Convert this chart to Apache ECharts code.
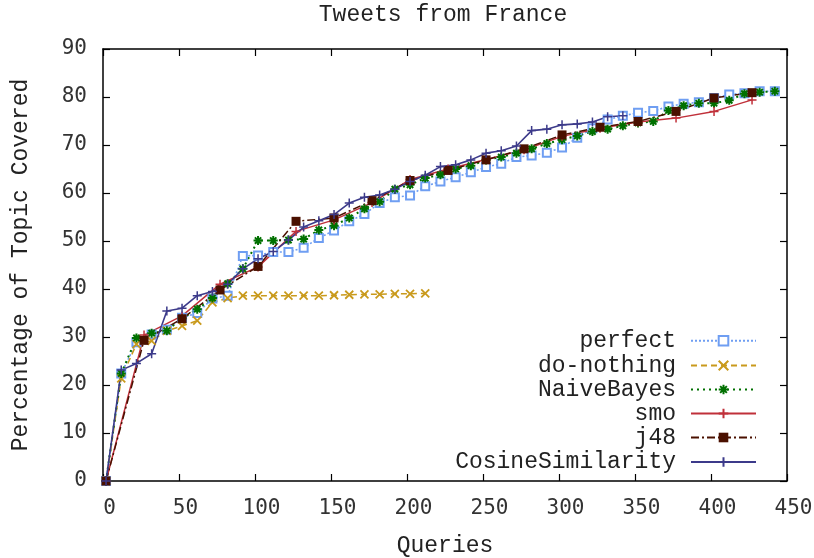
<!DOCTYPE html>
<html>
<head>
<meta charset="utf-8">
<script src="https://cdn.jsdelivr.net/npm/echarts@6/dist/echarts.min.js"></script>
<style>html,body{margin:0;padding:0;background:#fff}#c{width:814px;height:558px}</style>
</head>
<body>
<div id="c"></div>
<script>
// ---- data ----
var seriesNames = ['perfect', 'do-nothing', 'NaiveBayes', 'smo', 'j48', 'CosineSimilarity'];
var xTicks = [0, 50, 100, 150, 200, 250, 300, 350, 400, 450];
var yTicks = [0, 10, 20, 30, 40, 50, 60, 70, 80, 90];

var queries10 = [2, 12, 22, 32, 42, 52, 62, 72, 82, 92, 102, 112, 122, 132, 142, 152, 162, 172, 182, 192,
  202, 212, 222, 232, 242, 252, 262, 272, 282, 292, 302, 312, 322, 332, 342, 352, 362, 372, 382, 392,
  402, 412, 422, 432, 442];
var queries25 = [2, 27, 52, 77, 102, 127, 152, 177, 202, 227, 252, 277, 302, 327, 352, 377, 402, 427];

var perfectY = [0, 22.4, 28.9, 30.5, 31.5, 34, 35, 38, 38.6, 46.9, 47, 47.7, 47.7, 48.6, 50.6, 52.2, 54.1, 55.6, 57.9, 59.1,
  59.5, 61.4, 62.4, 63.3, 64.3, 65.4, 66.1, 67.5, 67.8, 68.4, 69.5, 71.5, 73.5, 75.3, 76.1, 76.7, 77.1, 78, 78.6, 78.9,
  79.8, 80.5, 80.8, 81.2, 81.2];
var doNothingY = [0, 21.4, 28.5, 29.2, 31.3, 32.3, 33.4, 37.2, 38.1, 38.6, 38.6, 38.6, 38.6, 38.6, 38.6, 38.7, 38.8, 38.9, 38.9, 39.0,
  39.0, 39.1];
var naiveBayesY = [0, 22.4, 29.8, 30.8, 31.3, 33.9, 35.8, 38.1, 41.1, 44.2, 50.1, 50.1, 50.2, 50.4, 52.3, 53.2, 54.8, 56.7, 58.2, 60.8,
  61.7, 63.1, 63.8, 65, 65.7, 66.9, 67.5, 68.3, 69.2, 70.3, 71.1, 71.9, 72.8, 73.3, 74, 74.6, 74.9, 77.2, 78.2, 78.7,
  78.7, 79.3, 80.7, 81, 81.2];
var smoY = [0, 30.4, 34.4, 41, 44.6, 52, 54.4, 58, 62.8, 65, 67, 69, 71.8, 73.5, 74.8, 75.6, 77, 79.4];
var j48Y = [0, 29.3, 33.8, 39.8, 44.7, 54.1, 54.8, 58.4, 62.6, 64.7, 66.9, 69.2, 72.1, 73.7, 74.9, 77, 79.8, 80.9];
var cosineY = [0, 23.1, 24.5, 26.5, 35.4, 36, 38.6, 39.5, 41, 44.2, 46.3, 47.8, 50.2, 52.9, 54.2, 55.5, 57.9, 59.1, 59.6, 60.8,
  62.4, 63.7, 65.5, 65.9, 66.9, 68.3, 68.8, 69.8, 73, 73.3, 74.2, 74.4, 74.8, 75.9, 76.1];

function pairs(xs, ys) { var out = []; for (var i = 0; i < ys.length; i++) out.push([xs[i], ys[i]]); return out; }

// ---- styling ----
var MONO = 'Liberation Mono';
var TICKFONT = 'DejaVu Sans Mono';
var PLUS = 'path://M0,5H10M5,0V10';
var CROSS = 'path://M0,0L10,10M10,0L0,10';
var STAR = 'path://M0,5H10M5,0V10M1.5,1.5L8.5,8.5M8.5,1.5L1.5,8.5';

function mk(name, data, color, dash, width, symbol, size, borderW) {
  return {
    name: name, type: 'line', data: data, symbol: symbol, symbolSize: size,
    showAllSymbol: true, animation: false, clip: false,
    lineStyle: { color: color, width: width, type: dash },
    itemStyle: { color: color, borderColor: color, borderWidth: borderW }
  };
}

var series = [
  mk('perfect', pairs(queries10, perfectY), '#6f9ef2', [2, 2], 1.6, 'emptyRect', 8, 2),
  mk('do-nothing', pairs(queries10, doNothingY), '#c99a1c', [6, 4], 1.5, CROSS, 8, 1.8),
  mk('NaiveBayes', pairs(queries10, naiveBayesY), '#007000', [2, 4], 2, STAR, 9, 2),
  mk('smo', pairs(queries25, smoY), '#c0303a', 'solid', 1.5, PLUS, 9, 1.5),
  mk('j48', pairs(queries25, j48Y), '#4a1000', [8, 3, 2, 3], 1.5, 'rect', 9, 0),
  mk('CosineSimilarity', pairs(queries10, cosineY), '#3c3a8a', 'solid', 1.6, PLUS, 9, 1.5)
];

var legendRows = [340.7, 365.5, 389.5, 413.5, 437.5, 462];
var legends = seriesNames.map(function (n, i) {
  return {
    data: [n], orient: 'vertical', align: 'right', right: 57, top: legendRows[i] - 11.5,
    itemWidth: 65, itemHeight: 12, itemGap: 0, padding: 0, selectedMode: false,
    textStyle: { fontFamily: MONO, fontSize: 23, color: '#222', padding: [0, 10, 0, 0] }
  };
});

var axisLine = { show: true, onZero: false, lineStyle: { color: '#000', width: 1.5 } };
var tick = { show: true, inside: true, length: 7, lineStyle: { color: '#000', width: 1.2 } };

var option = {
  animation: false,
  backgroundColor: '#fff',
  grid: { left: 103, right: 27, top: 49, bottom: 77, containLabel: false, outerBoundsMode: 'none' },
  graphic: [{
    type: 'text', x: 443, y: 15,
    style: { text: 'Tweets from France', font: '23px "Liberation Mono"', fill: '#222', textAlign: 'center', textVerticalAlign: 'middle' }
  }],
  legend: legends,
  xAxis: [{
    type: 'value', position: 'bottom', min: xTicks[0], max: xTicks[xTicks.length - 1], interval: 50,
    axisLine: axisLine, axisTick: tick, splitLine: { show: false },
    axisLabel: { fontFamily: TICKFONT, fontSize: 21, color: '#333', margin: 17, padding: [0, 0, 0, 13] },
    name: 'Queries', nameLocation: 'middle', nameGap: 53,
    nameTextStyle: { fontFamily: MONO, fontSize: 23, color: '#222' }
  }, {
    type: 'value', position: 'top', min: xTicks[0], max: xTicks[xTicks.length - 1], interval: 50,
    axisLine: axisLine, axisTick: tick, splitLine: { show: false }, axisLabel: { show: false }
  }],
  yAxis: [{
    type: 'value', position: 'left', min: yTicks[0], max: yTicks[yTicks.length - 1], interval: 10,
    axisLine: axisLine, axisTick: tick, splitLine: { show: false },
    axisLabel: { fontFamily: TICKFONT, fontSize: 21, color: '#333', margin: 16, padding: [4, 0, 0, 0] },
    name: 'Percentage of Topic Covered', nameLocation: 'middle', nameGap: 71, nameRotate: 90,
    nameTextStyle: { fontFamily: MONO, fontSize: 23, color: '#222' }
  }, {
    type: 'value', position: 'right', min: yTicks[0], max: yTicks[yTicks.length - 1], interval: 10,
    axisLine: axisLine, axisTick: tick, splitLine: { show: false }, axisLabel: { show: false }
  }],
  series: series
};

var chart = echarts.init(document.getElementById('c'), null, { renderer: 'canvas' });
chart.setOption(option);
</script>
</body>
</html>
